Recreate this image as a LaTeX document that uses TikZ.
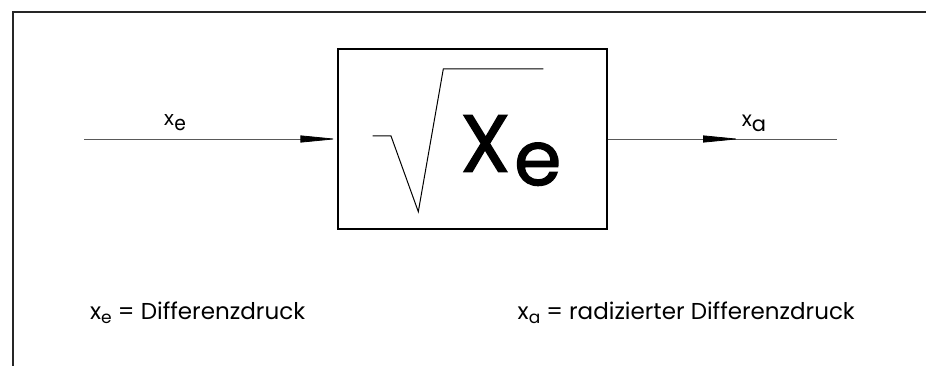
\documentclass[tikz,border=0pt]{standalone}
\usepackage{fontspec}
\setmainfont{Poppins}
\newfontfamily\helv{TeX Gyre Heros}
\newfontfamily\popheavy[FakeBold=1.6]{Poppins}
\usetikzlibrary{arrows.meta}
\tikzset{
  frameline/.style={line width=1.6pt, draw=black!85},
  sigline/.style={line width=0.8pt, draw=black!65},
  bigtri/.style={-{Triangle[length=37pt,width=7pt,color=black]}},
  blockbox/.style={draw, line width=1.1pt, minimum width=269pt, minimum height=180pt, inner sep=0pt},
  toplabel/.style={inner sep=0pt, font=\fontsize{21}{21}\selectfont},
  legend/.style={inner sep=0pt, font=\fontsize{23}{23}\selectfont},
}
\newcommand{\subx}[1]{x\raisebox{-4.5pt}{\fontsize{17}{17}\selectfont #1}}
\begin{document}
\begin{tikzpicture}[x=1pt,y=-1pt]
\useasboundingbox (0,0) rectangle (926,366);
% frame
\draw[frameline] (13,366) -- (13,12) -- (926,12);
% block
\node[blockbox] (blk) at (472.5,139) {};
% root sign
\draw[line width=1pt] (372.7,136) -- (391,136) -- (418.3,211.7) -- (443.3,69) -- (543.3,69);
\node[anchor=base west, inner sep=0pt, font=\fontsize{81}{81}\popheavy] (bigX) at (460,171.7) {X};
\node[anchor=base west, inner sep=0pt, font=\fontsize{76}{76}\popheavy] (bigE) at (514,185) {e};
% input
\coordinate (in) at (84,139);
\draw[sigline, bigtri] (in) -- (blk.west);
\node[toplabel] (lxe) at (175,123) {\helv x\raisebox{-5pt}{e}};
% output
\coordinate (out) at (837,139);
\coordinate (tip) at (740,139);
\draw[sigline] (blk.east) -- (out);
\draw[sigline, bigtri] (blk.east) -- (tip);
\node[toplabel] (lxa) at (754,123) {x\raisebox{-5pt}{a}};
% legend
\node[legend, anchor=base west] (leg1) at (90,319) {\resizebox{215pt}{\height}{\subx{e} = Differenzdruck}};
\node[legend, anchor=base east] (leg2) at (855,319) {\subx{a} = radizierter Differenzdruck};
\end{tikzpicture}
\end{document}
